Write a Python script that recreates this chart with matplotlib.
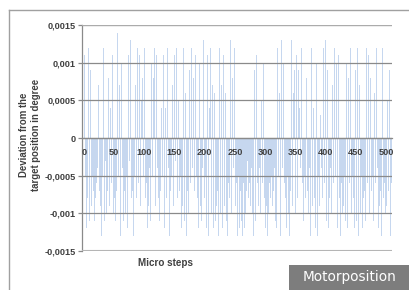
import matplotlib
matplotlib.use("Agg")
import matplotlib.pyplot as plt
from matplotlib.lines import Line2D
from matplotlib.patches import Rectangle

# micro steps and deviation in units of 1e-4 degree
steps = list(range(0, 510))
dev_e4 = [
    -7, 11, -10, -5, -12, 6, -8, -4, 12, -11,
    -6, 9, -13, -9, -5, 12, -7, 3, -11, -8,
    13, -6, -10, -4, 7, -12, -7, 5, -9, -13,
    10, -5, -8, 12, -11, -6, -3, 13, -10, -7,
    -12, 8, -5, -9, 4, -13, -6, 11, -4, -10,
    13, -8, -11, 4, -7, -12, 14, -5, -9, 7,
    -6, -13, 10, -8, -4, 12, -11, -7, 6, -10,
    9, -5, -12, -9, 11, -6, -3, 13, -11, -8,
    5, -7, -13, 12, -5, -10, 7, -8, -12, 12,
    -6, -4, 11, -11, -9, 5, -13, 8, -7, -5,
    12, -10, -8, 6, -6, -12, 3, -9, 13, -4,
    -11, -7, 10, -13, -5, 8, -10, 12, -6, -9,
    11, -12, -4, 6, -8, -11, 9, -7, -13, 4,
    -5, -10, 11, -6, -12, 4, -9, -8, 12, -11,
    -4, 10, -13, -7, 6, -5, -10, 7, -9, -12,
    11, -6, -3, 12, -11, -8, -13, 5, -7, -10,
    -5, 10, -12, -9, -6, 12, -4, -11, 6, -8,
    -13, 11, -7, -10, -5, 9, -12, -6, 12, -9,
    -4, -11, 8, -7, -13, 11, -5, -10, -8, 3,
    -12, 10, -6, -9, 5, -11, -4, -7, 13, -10,
    -8, -5, 9, -12, -6, 11, -13, -9, 4, -7,
    12, -10, -5, 7, -8, -12, 6, -4, -11, 12,
    -9, -7, 10, -13, -5, 12, -10, -6, 7, -8,
    -12, 11, -4, -9, 6, -7, -11, 5, -13, -6,
    10, -8, -5, 13, -10, -12, 8, -7, -4, 12,
    -11, -9, 4, -6, -13, -8, -5, -10, -12, -7,
    -4, -11, -9, -13, -6, -8, -12, -5, -10, -7,
    -11, -3, -13, -8, -6, -12, -9, -4, 12, -10,
    -7, -13, 9, -5, -11, -8, 11, -6, -12, -9,
    12, -4, -10, -7, 5, -13, -6, 10, -11, -8,
    -5, -12, -9, -7, -13, -4, -10, -6, -11, -8,
    -12, -5, -9, -13, -7, -10, -4, -11, -6, -12,
    -8, 12, -5, -10, 6, -13, -7, 13, -9, -4,
    10, -11, -6, 12, -8, -12, 7, -5, 12, -10,
    -13, 11, -7, -4, 13, -9, -11, 6, -6, 9,
    -10, -5, 11, -12, -8, 9, -7, 4, -13, -4,
    12, -9, -6, 10, -11, -5, 13, -8, -12, 8,
    -7, 12, -10, -4, 5, -13, -6, 12, -9, -5,
    4, -11, -8, -12, -6, 10, -10, -13, -5, -7,
    -9, -12, 3, -4, -11, -8, -13, 12, -6, -10,
    13, -7, -11, 9, -5, -12, 6, -8, -4, 12,
    -10, -13, 7, -6, -9, 12, -11, -5, 10, -7,
    -12, 11, -4, -8, 8, -13, -6, 6, -10, 11,
    -9, -5, 12, -11, -7, 10, -12, -4, 8, -13,
    -6, 12, -9, -10, 5, -5, -8, 13, -12, -7,
    9, -11, -4, 12, -6, -13, 7, -9, -10, 11,
    -5, -12, 10, -8, -7, 4, -11, -13, 12, -6,
    -9, 11, -4, -10, 8, -12, -7, 6, -5, -11,
    -13, 6, -8, -6, 12, -10, -4, 11, -12, -9,
    10, -7, -5, -13, 12, -11, -8, 4, -6, -10,
    12, -9, -12, 5, -7, -11, 9, -4, -13, -6,
]
deviation = [v * 1e-4 for v in dev_e4]

yticks = [-0.0015, -0.001, -0.0005, 0, 0.0005, 0.001, 0.0015]
ytick_labels = ["-0,0015", "-0,001", "-0,0005", "0", "0,0005", "0,001", "0,0015"]
xticks = [0, 50, 100, 150, 200, 250, 300, 350, 400, 450, 500]
xtick_labels = [str(t) for t in xticks]

W, H = 410, 290
fig = plt.figure(figsize=(W / 100, H / 100), dpi=100, facecolor="white")
ax = fig.add_axes([82 / W, (H - 251) / H, (392 - 82) / W, (251 - 25) / H])

ax.bar(steps, deviation, width=1.0, color="#8fb0e0", alpha=0.5,
       linewidth=0, zorder=2)

ax.set_xlim(-3, 510)
ax.set_ylim(-0.0015, 0.0015)
ax.set_yticks(yticks)
ax.set_yticklabels(ytick_labels)
ax.set_xticks(xticks)
ax.set_xticklabels(xtick_labels)

grid_c = "#8a8a8a"
ax.yaxis.grid(True, color=grid_c, linewidth=0.9, zorder=3)
ax.set_axisbelow(False)
for s in ["top", "right"]:
    ax.spines[s].set_visible(False)
ax.spines["left"].set_color(grid_c)
ax.spines["left"].set_linewidth(0.9)
ax.spines["bottom"].set_position(("data", 0))
ax.spines["bottom"].set_color(grid_c)
ax.spines["bottom"].set_linewidth(0.9)

ax.tick_params(axis="y", length=3, width=0.9, color=grid_c, pad=1.5,
               labelcolor="#404040")
ax.tick_params(axis="x", length=0, pad=7, labelcolor="#404040")
for lbl in ax.get_yticklabels() + ax.get_xticklabels():
    lbl.set_fontfamily("Liberation Sans")
    lbl.set_fontweight("bold")
    lbl.set_fontsize(6.6)

# lighter, thicker outer lines at top and bottom
ax.axhline(0.0015, color="#ababab", linewidth=1.5, zorder=3)
ax.axhline(-0.0015, color="#b5b5b5", linewidth=1.5, zorder=3)

fig.text(30 / W, 1 - 135 / H, "Deviation from the\ntarget position in degree",
         rotation=90, ha="center", va="center", color="#404040",
         fontfamily="Liberation Sans", fontweight="bold", fontsize=6.9,
         linespacing=1.15)
fig.text(138 / W, 1 - 263 / H, "Micro steps", ha="left", va="center",
         color="#404040", fontfamily="Liberation Sans", fontweight="bold",
         fontsize=7.1)

# outer frame (left and top only)
fig.add_artist(Line2D([9.5 / W, 9.5 / W], [0, 1 - 10 / H], color="#a0a0a0",
                      linewidth=1, transform=fig.transFigure))
fig.add_artist(Line2D([9.5 / W, 1], [1 - 10 / H, 1 - 10 / H], color="#a0a0a0",
                      linewidth=1, transform=fig.transFigure))

# Motorposition label box
fig.add_artist(Rectangle((289 / W, 0), (W - 289) / W, 25 / H,
                         transform=fig.transFigure, facecolor="#7d7d7d",
                         edgecolor="none"))
fig.text(349.5 / W, 12.5 / H, "Motorposition", ha="center", va="center",
         color="white", fontfamily="DejaVu Sans", fontsize=9.8)

fig.savefig("out.png", dpi=100, facecolor="white")
